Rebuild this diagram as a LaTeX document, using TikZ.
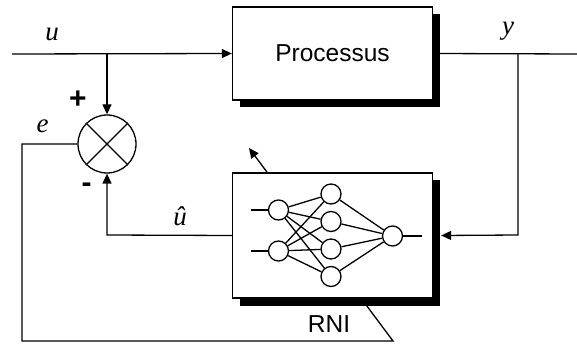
\documentclass[tikz,border=0pt]{standalone}
\usepackage{fontspec}
\setmainfont{Liberation Serif}
\setsansfont{Liberation Sans}
\usetikzlibrary{arrows.meta,calc,backgrounds,shadows}
\begin{document}
\begin{tikzpicture}[x=1pt,y=-1pt,
  wire/.style={line width=1.3pt},
  arr/.style={wire,-{Triangle[length=10pt,width=9pt]}},
  block/.style={draw,line width=1.3pt,fill=white,inner sep=0pt,
    drop shadow={shadow xshift=7.5pt,shadow yshift=-7.5pt,fill=black,opacity=1}},
  neuron/.style={circle,draw,line width=1.3pt,fill=white,inner sep=0pt,minimum size=20pt},
  lbl/.style={font=\fontsize{27}{30}\selectfont\itshape,inner sep=0pt},
  sgn/.style={font=\sffamily\bfseries\fontsize{30}{34}\selectfont,inner sep=0pt},
  big/.style={font=\sffamily\fontsize{24.5}{28}\selectfont}]
\useasboundingbox (0,0) rectangle (577,347);

% blocks
\node[block,minimum width=200pt,minimum height=93pt] (proc) at (332.5,53.5) {};
\node[big] at (proc.center) {Processus};
\node[block,minimum width=200pt,minimum height=125pt] (rni) at (332.5,235.5) {};
\node[big] (rnilbl) at (329,324) {RNI};

% summing junction
\node[circle,draw,line width=1.3pt,minimum size=58pt,inner sep=0pt] (sum) at (107,144) {};
\draw[wire] (sum.north west) -- (sum.south east);
\draw[wire] (sum.north east) -- (sum.south west);

% coordinates
\coordinate (in) at (12,54);
\coordinate (ub) at (107,54);
\coordinate (out) at (577,54);
\coordinate (yb) at (518,54);
\coordinate (yc) at (518,235);
\coordinate (uh) at (107,235);
\coordinate (e1) at (22,144);
\coordinate (e2) at (22,341);
\coordinate (e3) at (393,341);
\coordinate (e4) at (249,148);

% connectors
\draw[arr] (in) -- (proc.west);
\draw[arr] (ub) -- (sum.north);
\draw[wire] (proc.east) -- (out);
\draw[arr] (yb) -- (yc) -- ($(rni.east)+(8,0)$);
\draw[arr] (rni.west) -- (uh) -- (sum.south);
\begin{scope}[on background layer]
\draw[arr] (sum.west) -- (e1) -- (e2) -- (e3) -- (e4);
\end{scope}

% neural net
\coordinate (s1) at (251,210);
\coordinate (s2) at (251,251);
\coordinate (s3) at (422,236);
\node[neuron] (i1) at (278.5,210) {};
\node[neuron] (i2) at (278.5,251) {};
\node[neuron] (h1) at (331,194) {};
\node[neuron] (h2) at (331,221.5) {};
\node[neuron] (h3) at (331,249) {};
\node[neuron] (h4) at (331,276.5) {};
\node[neuron] (o1) at (392.5,236) {};
\draw[wire] (s1) -- (i1);
\draw[wire] (s2) -- (i2);
\draw[wire] (o1) -- (s3);
\foreach \i in {i1,i2}
  \foreach \h in {h1,h2,h3,h4}
    \draw[wire] (\i) -- (\h);
\foreach \h in {h1,h2,h3,h4}
  \draw[wire] (\h) -- (o1);

% labels
\node[lbl] (lu) at (52,34.5) {u};
\node[lbl] (le) at (42.5,126.5) {e};
\node[lbl,anchor=base] (luh) at (180,225.5) {û};
\node[lbl,anchor=base] (ly) at (508,35) {y};
\node[sgn] (plus) at (78,100) {+};
\node[sgn] (minus) at (86.5,188) {-};
\end{tikzpicture}
\end{document}
